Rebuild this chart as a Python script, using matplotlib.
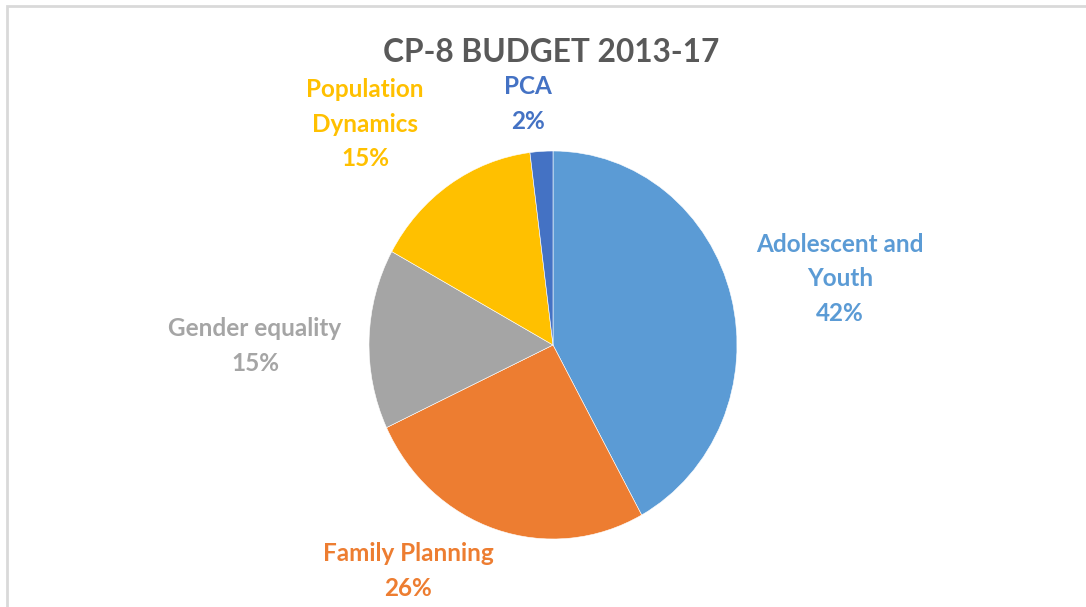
import matplotlib.pyplot as plt
from matplotlib.patches import Rectangle

# data
categories = ['Adolescent and\nYouth', 'Family Planning', 'Gender equality', 'Population\nDynamics', 'PCA']
shares = [42, 26, 15, 15, 2]
colors = ['#5B9BD5', '#ED7D31', '#A5A5A5', '#FFC000', '#4472C4']
# label centers in pixels (x, y from top)
label_pos = [(840, 279), (408, 571), (255, 346), (365, 124), (528, 104)]

W, H = 1086, 607
fig = plt.figure(figsize=(W / 100, H / 100), dpi=100)
fig.patch.set_facecolor('white')

# light gray chart frame (runs off right and bottom edge)
fig.patches.append(Rectangle((7 / W, -0.05), 1.1, 1 - 6 / H + 0.05, transform=fig.transFigure,
                             fill=False, edgecolor='#D9D9D9', linewidth=2))

# pie axes: center (553, 345), radius 184 px wide, 194 px tall
cx, cy, rx, ry = 553, 345, 184, 194
ax = fig.add_axes([(cx - rx) / W, 1 - (cy + ry) / H, 2 * rx / W, 2 * ry / H])
ax.pie(shares, colors=colors, startangle=90, counterclock=False,
       wedgeprops=dict(edgecolor='white', linewidth=0.4))
ax.set_aspect('auto')
ax.set_xlim(-1, 1)
ax.set_ylim(-1, 1)
ax.axis('off')

fig.text(551 / W, 1 - 53 / H, 'CP-8 BUDGET 2013-17', ha='center', va='center',
         fontsize=22.8, fontweight='bold', family='Lato', color='#595959')

for cat, val, col, (x, y) in zip(categories, shares, colors, label_pos):
    fig.text(x / W, 1 - y / H, f'{cat}\n{val}%', ha='center', va='center',
             fontsize=17.5, fontweight='bold', family='Lato', color=col, linespacing=1.6)

plt.savefig('out.png', dpi=100)
